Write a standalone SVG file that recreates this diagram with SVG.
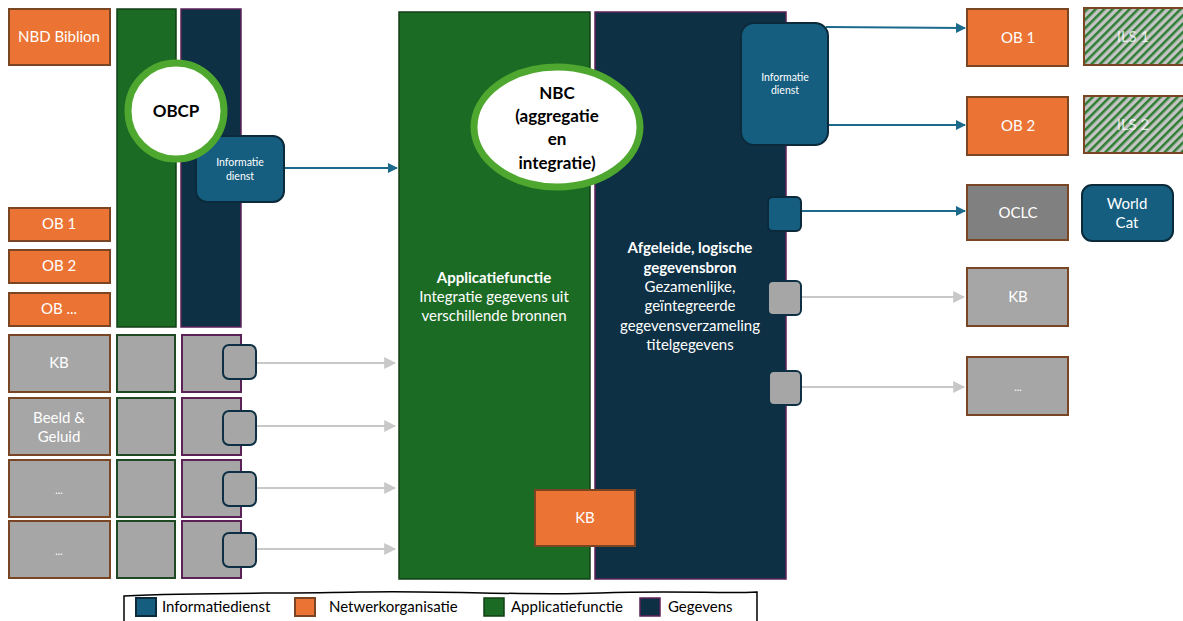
<svg xmlns="http://www.w3.org/2000/svg" width="1183" height="621" viewBox="0 0 1183 621">
<defs>
<style>
text{font-family:Lato,"Liberation Sans",sans-serif;fill:#fff;text-anchor:middle}
.org{fill:#EB7434;stroke:#7A4522;stroke-width:2}
.app{fill:#1C6B24;stroke:#123F16;stroke-width:1.5}
.dat{fill:#0D3044;stroke:#5C2257;stroke-width:1.5}
.inf{fill:#155E80;stroke:#0B2A3B;stroke-width:2}
.g1{fill:#A6A6A6;stroke:#7A4522;stroke-width:2}
.g2{fill:#A6A6A6;stroke:#1D4A22;stroke-width:2}
.g3{fill:#A6A6A6;stroke:#5C2257;stroke-width:2}
.gs{fill:#A6A6A6;stroke:#0D3044;stroke-width:2}
.ring{fill:#fff;stroke:#4EA72E;stroke-width:7}
.t14{font-size:15px}
.t10{font-size:10.5px}
.b{font-weight:bold}
.dk{fill:#000}
.lb{fill:#000;text-anchor:start;font-size:15px}
.cb{stroke:#1B6A8C;stroke-width:2;fill:none}
.cg{stroke:#C8C8C8;stroke-width:2;fill:none}
</style>
<marker id="ab" viewBox="0 0 10 10" refX="9" refY="5" markerWidth="5" markerHeight="5" orient="auto" markerUnits="strokeWidth"><path d="M0,0 L10,5 L0,10 z" fill="#1B6A8C"/></marker>
<marker id="ag" viewBox="0 0 10 10" refX="9" refY="5" markerWidth="6" markerHeight="6" orient="auto" markerUnits="strokeWidth"><path d="M0,0 L10,5 L0,10 z" fill="#C8C8C8"/></marker>
<pattern id="hatch" patternUnits="userSpaceOnUse" width="6" height="6" patternTransform="rotate(45)">
<rect width="6" height="6" fill="#C4C4C4"/>
<rect width="2.5" height="6" fill="#2E7D32"/>
</pattern>
</defs>

<g id="connectors">
<path class="cb" d="M284,168 L397,168" marker-end="url(#ab)"/>
<path class="cg" d="M256,363 L395,363" marker-end="url(#ag)"/>
<path class="cg" d="M256,426 L395,426" marker-end="url(#ag)"/>
<path class="cg" d="M256,488 L395,488" marker-end="url(#ag)"/>
<path class="cg" d="M256,549 L395,549" marker-end="url(#ag)"/>
<path class="cb" d="M826,27 L965,28" marker-end="url(#ab)"/>
<path class="cb" d="M826,125 L965,125" marker-end="url(#ab)"/>
<path class="cb" d="M801,211 L965,211" marker-end="url(#ab)"/>
<path class="cg" d="M801,297 L964,297" marker-end="url(#ag)"/>
<path class="cg" d="M801,387 L964,387" marker-end="url(#ag)"/>
</g>

<g id="nbd-biblion"><rect class="org" x="9" y="9" width="101" height="56"/><text class="t14" x="59" y="42">NBD Biblion</text></g>
<g id="obcp-app"><rect class="app" x="117" y="9" width="59" height="318"/></g>
<g id="obcp-data"><rect class="dat" x="181" y="9" width="60" height="318"/></g>
<g id="obcp-infodienst"><rect class="inf" x="196" y="136" width="88" height="66" rx="11"/><text class="t10" x="240" y="166">Informatie</text><text class="t10" x="240" y="180">dienst</text></g>
<g id="obcp"><circle class="ring" cx="176" cy="111" r="48"/><text class="dk b" x="176" y="117" font-size="17">OBCP</text></g>

<g id="ob1-left"><rect class="org" x="9" y="208" width="101" height="33"/><text class="t14" x="59" y="229">OB 1</text></g>
<g id="ob2-left"><rect class="org" x="9" y="250" width="101" height="33"/><text class="t14" x="59" y="271">OB 2</text></g>
<g id="obx-left"><rect class="org" x="9" y="293" width="101" height="33"/><text class="t14" x="59" y="314">OB ...</text></g>

<g id="row-kb"><rect class="g1" x="9" y="335" width="101" height="57"/><rect class="g2" x="117" y="335" width="58" height="57"/><rect class="g3" x="182" y="335" width="59" height="57"/><rect class="gs" x="223" y="345" width="33" height="34" rx="6"/><text class="t14" x="59" y="368">KB</text></g>
<g id="row-bg"><rect class="g1" x="9" y="398" width="101" height="57"/><rect class="g2" x="117" y="398" width="58" height="57"/><rect class="g3" x="182" y="398" width="59" height="57"/><rect class="gs" x="223" y="411" width="33" height="34" rx="6"/><text class="t14" x="59" y="423">Beeld &amp;</text><text class="t14" x="59" y="442">Geluid</text></g>
<g id="row-x1"><rect class="g1" x="9" y="460" width="101" height="57"/><rect class="g2" x="117" y="460" width="58" height="57"/><rect class="g3" x="182" y="460" width="59" height="57"/><rect class="gs" x="223" y="472" width="33" height="34" rx="6"/><text class="t10" x="59" y="494">...</text></g>
<g id="row-x2"><rect class="g1" x="9" y="521" width="101" height="57"/><rect class="g2" x="117" y="521" width="58" height="57"/><rect class="g3" x="182" y="521" width="59" height="57"/><rect class="gs" x="223" y="533" width="33" height="34" rx="6"/><text class="t10" x="59" y="555">...</text></g>

<g id="nbc-app"><rect class="app" x="399" y="12" width="191" height="567"/>
<text class="t14 b" x="494" y="283">Applicatiefunctie</text>
<text class="t14" x="494" y="302">Integratie gegevens uit</text>
<text class="t14" x="494" y="321">verschillende bronnen</text></g>
<g id="nbc-data"><rect class="dat" x="595" y="12" width="191" height="567"/>
<text class="t14 b" x="690" y="253">Afgeleide, logische</text>
<text class="t14 b" x="690" y="273">gegevensbron</text>
<text class="t14" x="690" y="292">Gezamenlijke,</text>
<text class="t14" x="690" y="311">geïntegreerde</text>
<text class="t14" x="690" y="331">gegevensverzameling</text>
<text class="t14" x="690" y="350">titelgegevens</text></g>
<g id="nbc"><ellipse class="ring" cx="557" cy="127" rx="83" ry="60"/>
<text class="dk b" x="557" y="99" font-size="17">NBC</text>
<text class="dk b" x="557" y="122" font-size="17">(aggregatie</text>
<text class="dk b" x="557" y="145" font-size="17">en</text>
<text class="dk b" x="557" y="169" font-size="17">integratie)</text></g>
<g id="nbc-infodienst"><rect class="inf" x="741" y="23" width="87" height="122" rx="13"/><text class="t10" x="785" y="81">Informatie</text><text class="t10" x="785" y="94">dienst</text></g>
<g id="port-oclc"><rect class="inf" x="768" y="197" width="33" height="34" rx="5"/></g>
<g id="port-kb"><rect class="gs" x="768" y="281" width="33" height="34" rx="5"/></g>
<g id="port-x"><rect class="gs" x="769" y="371" width="32" height="34" rx="5"/></g>
<g id="kb-mid"><rect class="org" x="535" y="490" width="100" height="56"/><text class="t14" x="585" y="523">KB</text></g>

<g id="ob1-right"><rect class="org" x="967" y="9" width="101" height="57"/><text class="t14" x="1018" y="43">OB 1</text></g>
<g id="ils1"><rect x="1084" y="8" width="100" height="57" fill="url(#hatch)" stroke="#7A4522" stroke-width="2"/><text class="t14" x="1133" y="42" fill-opacity="0.8">ILS 1</text></g>
<g id="ob2-right"><rect class="org" x="967" y="97" width="101" height="58"/><text class="t14" x="1018" y="131">OB 2</text></g>
<g id="ils2"><rect x="1084" y="96" width="100" height="57" fill="url(#hatch)" stroke="#7A4522" stroke-width="2"/><text class="t14" x="1133" y="130" fill-opacity="0.8">ILS 2</text></g>
<g id="oclc"><rect x="967" y="185" width="101" height="55" fill="#808080" stroke="#7A4522" stroke-width="2"/><text class="t14" x="1018" y="218">OCLC</text></g>
<g id="worldcat"><rect class="inf" x="1082" y="185" width="91" height="56" rx="10"/><text class="t14" x="1127" y="209">World</text><text class="t14" x="1127" y="228">Cat</text></g>
<g id="kb-right"><rect class="g1" x="967" y="268" width="101" height="58"/><text class="t14" x="1018" y="302">KB</text></g>
<g id="x-right"><rect class="g1" x="967" y="357" width="101" height="58"/><text class="t10" x="1018" y="391">...</text></g>

<g id="legend">
<path d="M124,621 L124,596 C200,592 280,594 360,592 C440,590 520,596 600,593 C680,590 720,594 757,592 L757,621" fill="#fff" stroke="#000" stroke-width="1.5"/>
<rect class="inf" x="136" y="598" width="20" height="18" stroke-width="1"/><text class="lb" x="162" y="612">Informatiedienst</text>
<rect class="org" x="295" y="598" width="20" height="18" stroke-width="1"/><text class="lb" x="329" y="612">Netwerkorganisatie</text>
<rect class="app" x="484" y="598" width="20" height="18"/><text class="lb" x="511" y="612">Applicatiefunctie</text>
<rect class="dat" x="640" y="598" width="20" height="18"/><text class="lb" x="668" y="612">Gegevens</text>
</g>
</svg>
